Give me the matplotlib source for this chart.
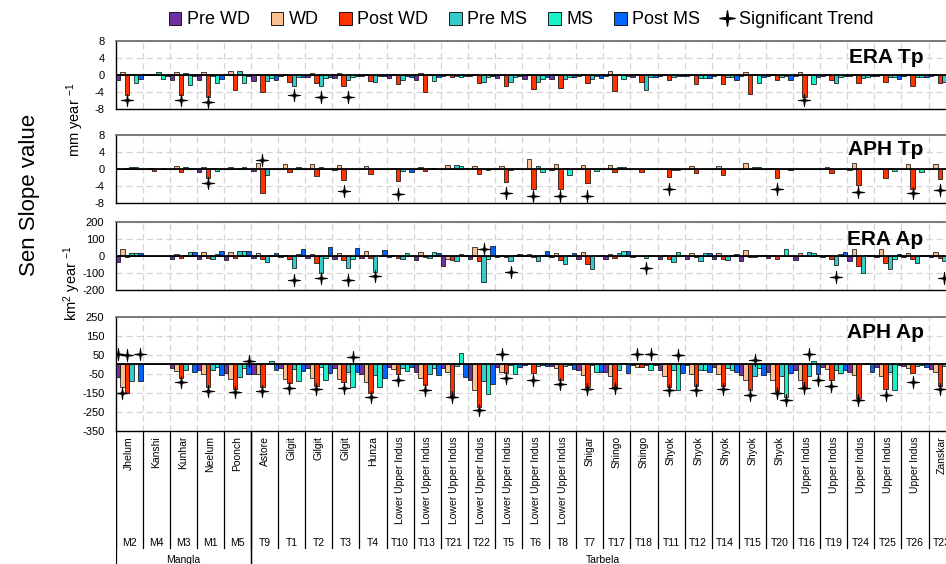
import numpy as np
import matplotlib.pyplot as plt
from matplotlib.patches import Patch
from matplotlib.lines import Line2D
from matplotlib.path import Path

plt.rcParams['font.family'] = ['Liberation Sans', 'DejaVu Sans']
plt.rcParams['axes.unicode_minus'] = False
plt.rcParams['mathtext.fontset'] = 'custom'
plt.rcParams['mathtext.rm'] = 'Liberation Sans'
plt.rcParams['mathtext.it'] = 'Liberation Sans:italic'

# 1. Podaci - slivovi i serije
ids = ['M2', 'M4', 'M3', 'M1', 'M5', 'T9', 'T1', 'T2', 'T3', 'T4', 'T10', 'T13',
       'T21', 'T22', 'T5', 'T6', 'T8', 'T7', 'T17', 'T18', 'T11', 'T12', 'T14',
       'T15', 'T20', 'T16', 'T19', 'T24', 'T25', 'T26', 'T23']
names = ['Jhelum', 'Kanshi', 'Kunhar', 'Neelum', 'Poonch', 'Astore', 'Gilgit',
         'Gilgit', 'Gilgit', 'Hunza'] + ['Lower Upper Indus'] * 7 + \
        ['Shigar', 'Shingo', 'Shingo'] + ['Shyok'] * 5 + ['Upper Indus'] * 5 + \
        ['Zanskar']
groups = ['Mangla', 'Tarbela']
group_bounds = [(0, 5), (5, 31)]

series = ['Pre WD', 'WD', 'Post WD', 'Pre MS', 'MS', 'Post MS']
colors = ['#7030A0', '#FAC090', '#FF3300', '#33CCCC', '#19F2C8', '#0066FF']

# ERA Tp [mm/year]
era_tp = [[-1.2, 0.7, -4.8, 0.3, -2.0, -0.9], [0.1, 0.2, 0.1, 0.6, -0.9, -0.3],
          [-1.1, 0.7, -4.8, 0.4, -2.3, -0.3], [-1.3, 0.7, -5.3, -0.2, -2.0, -1.0],
          [0.2, 1.0, -3.6, 0.9, -1.8, -0.3], [-1.4, 0.3, -4.0, -1.5, -0.7, -1.2],
          [-0.3, 0.3, -1.6, -2.6, -0.5, -0.5], [-0.6, 0.4, -2.0, -2.6, -0.8, -0.4],
          [-0.8, 0.4, -2.5, -1.3, -0.6, -0.3], [-0.2, 0.2, -1.5, -1.7, -0.3, -0.3],
          [-0.7, 0.2, -2.2, -1.3, -0.3, -0.6], [-1.1, 0.5, -4.0, 0.1, -1.5, -0.4],
          [-0.2, 0.1, -0.5, -0.3, -0.6, -0.3], [-0.3, 0.1, -1.8, -1.6, -0.4, -0.3],
          [-0.8, 0.2, -2.5, -1.7, -0.5, -0.3], [-1.0, 0.3, -3.3, -1.7, -1.0, -0.5],
          [-1.0, 0.2, -3.0, -1.0, -0.5, -0.5], [-0.3, 0.2, -1.9, -1.0, -0.3, -0.8],
          [-0.3, 0.9, -3.8, 0.2, -1.0, -0.3], [-0.6, 0.3, -1.7, -3.5, -0.4, -0.6],
          [-0.3, 0.2, -1.1, -0.5, -0.3, -0.2], [-0.3, 0.3, -2.2, -0.8, -0.8, -0.8],
          [-0.3, 0.3, -2.2, -0.6, -0.6, -1.1], [-0.3, 0.7, -4.5, 0.1, -2.0, -0.6],
          [-0.2, 0.2, -1.1, -0.4, -0.3, -1.1], [-0.3, 0.6, -5.3, 0.2, -2.1, -0.4],
          [-0.3, 0.2, -1.3, -2.0, -0.4, -0.3], [-0.3, 0.2, -2.0, -0.8, -0.4, -0.3],
          [-0.3, 0.2, -1.7, -0.6, -0.4, -1.0], [-0.3, 0.2, -2.7, -0.6, -0.5, -0.5],
          [-0.3, 0.2, -2.0, -1.6, -0.4, -0.3]]
# znacajni trendovi: (sliv, serija, polozaj oznake)
era_tp_sig = [(0, 2, -5.9), (2, 2, -5.9), (3, 2, -6.3), (6, 3, -4.7),
              (7, 3, -5.2), (8, 3, -5.1), (25, 2, -6.0)]

# APH Tp [mm/year]
aph_tp = [[0.1, 0.1, 0.2, 0.4, 0.4, 0.1], [0.0, 0.3, -0.5, 0.1, 0.2, 0.0],
          [0.1, 0.6, -0.8, 0.5, 0.2, 0.0], [-0.6, 0.4, -2.2, 0.2, -0.5, 0.0],
          [0.0, 0.5, 0.1, 0.2, 0.5, 0.0], [-0.5, 1.5, -5.7, -1.4, 0.1, 0.0],
          [0.0, 1.1, -0.8, 0.1, 0.5, 0.0], [0.0, 1.2, -1.7, 0.4, 0.1, 0.0],
          [-0.2, 1.0, -2.5, 0.1, 0.0, 0.0], [0.0, 0.6, -1.2, 0.0, 0.0, 0.0],
          [0.0, 0.3, -2.8, -0.5, 0.0, -0.8], [0.0, 0.5, -0.5, 0.2, 0.2, 0.0],
          [0.0, 1.0, 0.1, 1.0, 0.7, 0.3], [0.0, 0.6, -1.2, 0.1, -0.3, 0.0],
          [0.0, 0.7, -3.0, -0.2, 0.1, 0.0], [0.1, 2.3, -4.8, 0.8, -0.8, 0.1],
          [-0.3, 1.2, -4.6, 0.3, -1.3, 0.0], [0.0, 1.0, -3.2, 0.0, -0.4, 0.0],
          [0.0, 1.0, -0.6, 0.4, 0.4, 0.0], [0.0, 0.1, -0.6, 0.0, 0.0, 0.0],
          [-0.1, 0.1, -1.8, -0.3, -0.2, 0.0], [0.0, 0.8, -1.0, 0.0, 0.0, 0.0],
          [0.0, 0.7, -1.3, 0.1, 0.0, 0.0], [0.0, 1.3, 0.1, 0.5, 0.5, 0.0],
          [0.0, 0.2, -2.2, -0.1, 0.0, -0.3], [0.0, 0.1, -0.1, 0.0, 0.0, 0.0],
          [0.0, 0.5, -1.0, 0.1, 0.0, 0.0], [-0.2, 1.3, -3.8, 0.1, 0.0, 0.0],
          [0.0, 0.3, -2.1, 0.2, -0.5, 0.0], [0.0, 1.2, -4.7, 0.1, -0.8, 0.0],
          [0.0, 1.2, -2.4, 0.1, -0.2, 0.0]]
aph_tp_sig = [(3, 2, -3.4), (5, 2, 2.1), (8, 2, -5.2), (10, 2, -5.9),
              (14, 2, -5.7), (15, 2, -6.4), (16, 2, -6.4), (17, 2, -6.4),
              (20, 2, -4.8), (24, 2, -4.8), (27, 2, -5.4), (29, 2, -5.6),
              (30, 2, -5.0)]

# ERA Ap [km2/year]
era_ap = [[-35, 40, -5, 15, 15, 18], [0, 0, 0, 0, 0, 0],
          [-15, 12, -10, 3, 25, 22], [-18, 22, -12, -18, 12, 28],
          [-25, 25, -12, 30, 32, 28], [-10, 18, -18, -35, 3, 18],
          [-5, 8, -20, -73, 10, 42], [-10, 12, -40, -98, -10, 55],
          [-15, 18, -25, -70, -20, 45], [-12, 28, -12, -95, 0, 36],
          [-5, 8, -12, -18, 18, 0], [-25, 25, -8, -10, 22, 20],
          [-58, -15, -22, -28, 10, 8], [-18, 52, -30, -155, -15, 58],
          [-5, 8, -5, -30, 3, 12], [5, 12, -8, -30, 5, 28],
          [-5, 20, -22, -48, 3, 18], [-15, 25, -45, -75, 2, 5],
          [-20, 10, -10, 18, 28, 28], [-3, 2, -2, -10, 3, 0],
          [-20, 5, -20, -35, 25, 5], [-20, 18, -8, -28, 18, 18],
          [-18, 18, -15, -25, 8, 12], [-30, 35, -5, -8, 5, 8],
          [-10, 5, -15, 0, 40, 0], [-25, 15, 0, 25, 20, 5],
          [-5, 5, -15, -55, 12, 25], [-30, 40, -60, -100, 5, 5],
          [-5, 40, -40, -78, -15, 10], [-5, 20, -15, -42, 5, 8],
          [-8, 25, -10, -30, 5, 5]]
era_ap_sig = [(6, 3, -140), (7, 3, -128), (8, 3, -140), (9, 3, -120),
              (13, 3, 40), (14, 3, -95), (19, 3, -68), (26, 3, -124),
              (30, 3, -130)]

# APH Ap [km2/year]
aph_ap = [[-67, -117, -151, -90, 0, -90], [0, 0, 0, 0, 0, 0],
          [-18, -35, -71, -30, 3, -40], [-30, -50, -117, -30, -15, -55],
          [-45, -75, -130, -67, -20, -53], [-50, -53, -117, 3, 18, -30],
          [-18, -78, -100, -22, -90, -35], [-18, -70, -112, -15, -80, -45],
          [-20, -75, -94, -40, -120, -40], [-50, -95, -151, -55, -117, -70],
          [-15, -25, -50, -20, -35, -15], [-40, -70, -108, -50, -20, -55],
          [-20, -40, -165, -10, 60, -64], [-85, -135, -224, -90, -156, -103],
          [-15, -40, -46, -5, -50, -15], [-3, 3, -46, -8, -5, -10],
          [-10, -20, -85, -8, -3, -25], [-30, -55, -120, -5, -40, -40],
          [-40, -60, -120, -30, 5, -45], [-5, -15, -15, -5, -30, -3],
          [-30, -60, -117, -30, -135, -45], [-5, -50, -112, -30, -30, -40],
          [-15, -50, -112, -20, -30, -40], [-55, -80, -135, -60, -20, -55],
          [-40, -80, -138, -60, -174, -45], [-30, -80, -117, -60, 18, -50],
          [-15, -25, -85, -30, -45, -30], [-40, -55, -178, 3, 5, -40],
          [-15, -60, -130, -40, -135, -5], [-10, -20, -45, -10, -5, -15],
          [-25, -40, -112, -10, -5, -5]]
aph_ap_sig = [(0, 0, 57), (0, 2, 48), (0, 5, 57), (0, 1, -153), (2, 2, -94),
              (3, 2, -138), (4, 2, -147), (4, 5, 16), (5, 2, -138), (6, 2, -124),
              (7, 2, -130), (8, 2, -124), (8, 4, 39), (9, 2, -174), (10, 2, -82),
              (11, 2, -135), (12, 2, -170), (13, 2, -241), (14, 1, 55),
              (14, 2, -72), (15, 2, -82), (16, 2, -106), (17, 2, -130),
              (18, 2, -124), (19, 1, 53), (19, 4, 53), (20, 2, -135), (20, 4, 48),
              (21, 2, -135), (22, 2, -131), (23, 2, -161), (23, 3, 21),
              (24, 2, -153), (24, 4, -188), (25, 2, -124), (25, 3, 53),
              (25, 5, -85), (26, 2, -112), (27, 2, -188), (28, 2, -161),
              (29, 2, -94), (30, 2, -130)]

# 2. Raspored panela (u pikselima slike 946x564)
W, H = 946, 564
x0, cat_w = 115.5, 27.1
n_cat = len(ids)
left = x0 / W
width = n_cat * cat_w / W

panels = [
    ('ERA Tp', era_tp, era_tp_sig, (-8, 8), np.arange(-8, 9, 4), 40.7, 109.0, 0.673),
    ('APH Tp', aph_tp, aph_tp_sig, (-8, 8), np.arange(-8, 9, 4), 135.0, 203.0, 0.706),
    ('ERA Ap', era_ap, era_ap_sig, (-200, 200), np.arange(-200, 201, 100), 222.0, 290.0, 0.66),
    ('APH Ap', aph_ap, aph_ap_sig, (-350, 250), np.arange(-350, 251, 100), 317.0, 430.7, 0.815),
]

# tanka zvijezda s 4 kraka za oznaku znacajnog trenda
ang = np.deg2rad(np.arange(0, 360, 45) + 90)
rad = np.tile([1.0, 0.18], 4)
star_verts = np.column_stack([rad * np.cos(ang), rad * np.sin(ang)])
star = Path(np.vstack([star_verts, star_verts[:1]]), closed=True)

fig = plt.figure(figsize=(W / 100, H / 100), dpi=100)
x = np.arange(n_cat)
bw = 1 / 6

for title, data, sig, ylim, yticks, top, bot, ty in panels:
    ax = fig.add_axes([left, 1 - bot / H, width, (bot - top) / H])
    vals = np.array(data, dtype=float)
    for j in range(6):
        ax.bar(x + (j + 0.5) * bw, vals[:, j], width=bw, color=colors[j],
               edgecolor='black', linewidth=0.5, zorder=3)
    ax.axhline(0, color='black', lw=1.3, zorder=4)
    # znacajni trendovi
    sx = [c + (s + 0.5) * bw for c, s, v in sig]
    sy = [v for c, s, v in sig]
    ax.plot(sx, sy, ls='none', marker=star, ms=9, color='black',
            mec='black', mew=0.6, zorder=5)

    ax.set_xlim(0, n_cat)
    ax.set_ylim(*ylim)
    ax.set_yticks(yticks)
    ax.set_xticks(np.arange(1, n_cat))
    ax.set_xticklabels([])
    ax.tick_params(length=0, labelsize=8, pad=8)
    ax.grid(True, ls=(0, (5, 3)), color='#d4d4d4', lw=0.9, zorder=0)
    ax.set_axisbelow(True)
    ax.spines['top'].set_color('#6f6f6f')
    ax.spines['top'].set_linewidth(1.3)
    ax.spines['right'].set_visible(False)
    ax.spines['left'].set_linewidth(1.0)
    ax.spines['bottom'].set_linewidth(1.0)
    ax.text(0.962, ty, title, transform=ax.transAxes, ha='right', va='baseline',
            fontsize=15, fontweight='bold')

# 3. Tablica s nazivima slivova
axt = fig.add_axes([left, 0, width, (H - 430.7) / H])
axt.set_xlim(0, n_cat)
axt.set_ylim(H, 430.7)
axt.axis('off')
for i in range(n_cat + 1):
    axt.plot([i, i], [430.7, 548], color='black', lw=0.9)
for a, b in group_bounds:
    axt.plot([a, a], [430.7, H], color='black', lw=0.9)
    axt.plot([b, b], [430.7, H], color='black', lw=0.9)
for i in range(n_cat):
    axt.text(i + 0.5, 436, names[i], rotation=90, ha='center', va='top', fontsize=7.5)
    axt.text(i + 0.5, 543, ids[i], ha='center', va='center', fontsize=7.5)
for g, (a, b) in zip(groups, group_bounds):
    axt.text((a + b) / 2, 555, g, ha='center', va='top', fontsize=7.5)

# 4. Oznake osi
fig.text(30 / W, 1 - 195 / H, 'Sen Slope value', rotation=90, ha='center',
         va='center', fontsize=16)
fig.text(75 / W, 1 - 120 / H, 'mm year $^{-1}$', rotation=90, ha='center',
         va='center', fontsize=10.5)
fig.text(72 / W, 1 - 283 / H, 'km$^{2}$ year $^{-1}$', rotation=90, ha='center',
         va='center', fontsize=10.5)

# 5. Legenda
handles = [Patch(facecolor=c, edgecolor='black', lw=0.6) for c in colors]
handles.append(Line2D([], [], ls='none', marker=star, ms=11, color='black'))
fig.legend(handles, series + ['Significant Trend'], loc='center',
           bbox_to_anchor=(521 / W, 1 - 20 / H), ncol=7, frameon=False,
           handlelength=0.7, handleheight=0.7, handletextpad=0.3,
           columnspacing=1.15,
           prop={'family': ['Liberation Sans Narrow', 'Liberation Sans'], 'size': 13})

fig.savefig('out.png', dpi=100)
